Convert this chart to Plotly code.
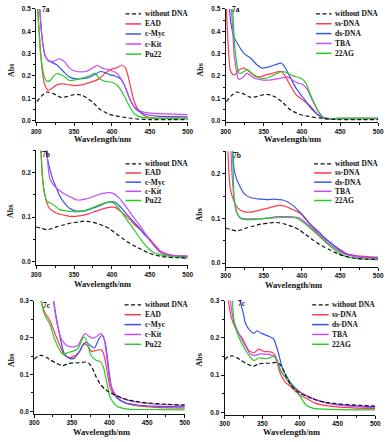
import plotly.graph_objects as go

# ---- data (wavelength / nm, absorbance) ----
# row a: without DNA (same control on both sides)
wl_a_free = [301, 307, 314, 322, 333, 341, 348, 354, 360, 365, 375, 384, 396, 409, 422, 435, 450, 475, 500]
ab_a_free = [0.085, 0.11, 0.128, 0.122, 0.104, 0.108, 0.115, 0.118, 0.114, 0.106, 0.081, 0.051, 0.029, 0.019, 0.012, 0.007, 0.005, 0.005, 0.005]

wl_a_ead = [300, 303, 306, 309, 312, 316, 321, 327, 336, 344, 352, 360, 370, 383, 392, 400, 406, 413, 418, 422, 426, 430, 435, 440, 447, 460, 500]
ab_a_ead = [0.62, 0.45, 0.30, 0.20, 0.155, 0.136, 0.145, 0.160, 0.165, 0.160, 0.157, 0.160, 0.170, 0.187, 0.215, 0.232, 0.236, 0.248, 0.235, 0.19, 0.13, 0.08, 0.048, 0.030, 0.016, 0.012, 0.012]
wl_a_myc = [304, 306, 309, 312, 316, 320, 327, 336, 344, 353, 366, 374, 385, 391, 398, 404, 411, 417, 422, 426, 430, 434, 443, 460, 500]
ab_a_myc = [0.55, 0.44, 0.34, 0.29, 0.268, 0.262, 0.25, 0.22, 0.195, 0.187, 0.19, 0.20, 0.22, 0.215, 0.205, 0.20, 0.188, 0.155, 0.11, 0.08, 0.058, 0.045, 0.030, 0.02, 0.017]
wl_a_kit = [304, 306, 309, 312, 316, 322, 331, 338, 344, 353, 366, 374, 381, 387, 396, 406, 415, 420, 424, 429, 434, 440, 447, 470, 500]
ab_a_kit = [0.55, 0.44, 0.34, 0.29, 0.27, 0.265, 0.277, 0.262, 0.235, 0.22, 0.22, 0.235, 0.247, 0.235, 0.228, 0.213, 0.17, 0.13, 0.095, 0.065, 0.05, 0.040, 0.035, 0.03, 0.027]
wl_a_pu22 = [300, 303, 306, 310, 314, 318, 322, 327, 336, 344, 350, 357, 370, 378, 383, 391, 400, 408, 415, 420, 424, 430, 439, 460, 500]
ab_a_pu22 = [0.62, 0.45, 0.30, 0.205, 0.177, 0.178, 0.195, 0.21, 0.20, 0.18, 0.182, 0.187, 0.20, 0.213, 0.19, 0.176, 0.172, 0.155, 0.118, 0.085, 0.06, 0.03, 0.015, 0.01, 0.008]

wl_a_ss = [300, 302, 304, 306, 309, 312, 318, 324, 331, 339, 345, 354, 362, 373, 377, 384, 392, 403, 411, 420, 430, 450, 500]
ab_a_ss = [0.60, 0.42, 0.30, 0.228, 0.208, 0.206, 0.228, 0.235, 0.22, 0.198, 0.196, 0.206, 0.213, 0.22, 0.206, 0.162, 0.118, 0.088, 0.066, 0.029, 0.01, 0.01, 0.01]
wl_a_ds = [303, 305, 307, 311, 318, 324, 333, 341, 348, 356, 365, 373, 377, 384, 392, 403, 411, 420, 430, 450, 500]
ab_a_ds = [0.60, 0.50, 0.434, 0.375, 0.331, 0.301, 0.279, 0.25, 0.235, 0.24, 0.25, 0.257, 0.243, 0.199, 0.147, 0.096, 0.059, 0.029, 0.01, 0.01, 0.01]
wl_a_tba = [306, 309, 311, 314, 316, 318, 324, 328, 337, 345, 354, 362, 373, 381, 388, 394, 401, 407, 413, 422, 430, 450, 500]
ab_a_tba = [0.60, 0.42, 0.30, 0.228, 0.191, 0.184, 0.198, 0.213, 0.191, 0.184, 0.181, 0.184, 0.191, 0.196, 0.181, 0.169, 0.162, 0.14, 0.096, 0.037, 0.01, 0.008, 0.008]
wl_a_22ag = [308, 310, 312, 314, 316, 318, 324, 328, 337, 345, 354, 364, 375, 381, 390, 398, 405, 411, 420, 428, 435, 450, 500]
ab_a_22ag = [0.60, 0.45, 0.33, 0.272, 0.228, 0.21, 0.22, 0.228, 0.206, 0.191, 0.191, 0.206, 0.22, 0.213, 0.198, 0.191, 0.169, 0.118, 0.051, 0.015, 0.01, 0.01, 0.01]

# row b
wl_b_free = [300, 307, 314, 320, 328, 337, 346, 355, 363, 371, 380, 390, 397, 403, 409, 415, 422, 428, 435, 442, 448, 455, 462, 473, 485, 500]
ab_b_free = [0.078, 0.075, 0.072, 0.074, 0.079, 0.083, 0.087, 0.089, 0.091, 0.090, 0.086, 0.080, 0.074, 0.066, 0.059, 0.051, 0.043, 0.037, 0.031, 0.025, 0.020, 0.016, 0.013, 0.010, 0.009, 0.008]

wl_b_ead = [305, 308, 310, 313, 318, 327, 336, 344, 352, 361, 370, 378, 387, 396, 404, 410, 417, 424, 430, 437, 443, 450, 456, 464, 473, 485, 500]
ab_b_ead = [0.30, 0.20, 0.165, 0.139, 0.119, 0.109, 0.105, 0.102, 0.102, 0.104, 0.108, 0.113, 0.118, 0.122, 0.122, 0.115, 0.105, 0.094, 0.083, 0.073, 0.063, 0.051, 0.039, 0.024, 0.017, 0.013, 0.011]
wl_b_myc = [311, 313, 318, 322, 327, 331, 336, 344, 353, 362, 370, 378, 387, 395, 400, 406, 413, 421, 430, 437, 443, 450, 456, 464, 473, 500]
ab_b_myc = [0.30, 0.25, 0.209, 0.185, 0.165, 0.148, 0.135, 0.12, 0.114, 0.114, 0.117, 0.122, 0.128, 0.134, 0.135, 0.132, 0.12, 0.104, 0.087, 0.074, 0.061, 0.048, 0.035, 0.021, 0.015, 0.012]
wl_b_kit = [313, 315, 318, 322, 327, 334, 340, 347, 353, 360, 366, 375, 383, 390, 396, 402, 409, 417, 426, 432, 439, 445, 451, 458, 464, 477, 500]
ab_b_kit = [0.30, 0.23, 0.187, 0.175, 0.165, 0.156, 0.15, 0.144, 0.139, 0.139, 0.141, 0.146, 0.151, 0.154, 0.155, 0.153, 0.144, 0.127, 0.106, 0.092, 0.076, 0.061, 0.046, 0.033, 0.021, 0.015, 0.013]
wl_b_pu22 = [305, 308, 310, 314, 318, 323, 331, 344, 352, 361, 370, 378, 387, 396, 400, 404, 412, 421, 428, 434, 440, 447, 453, 460, 473, 500]
ab_b_pu22 = [0.30, 0.20, 0.165, 0.137, 0.132, 0.128, 0.117, 0.113, 0.112, 0.113, 0.118, 0.124, 0.130, 0.134, 0.134, 0.129, 0.113, 0.091, 0.075, 0.06, 0.046, 0.032, 0.023, 0.017, 0.013, 0.008]

wl_b_ss = [302, 304, 306, 311, 316, 324, 333, 346, 358, 366, 371, 378, 384, 390, 397, 405, 414, 422, 431, 443, 452, 460, 473, 500]
ab_b_ss = [0.30, 0.21, 0.167, 0.138, 0.123, 0.115, 0.114, 0.119, 0.124, 0.128, 0.129, 0.127, 0.123, 0.118, 0.112, 0.098, 0.079, 0.066, 0.053, 0.038, 0.028, 0.02, 0.016, 0.013]
wl_b_ds = [308, 311, 314, 318, 324, 333, 346, 355, 363, 370, 375, 382, 388, 395, 401, 407, 414, 422, 431, 440, 448, 456, 464, 473, 500]
ab_b_ds = [0.30, 0.211, 0.19, 0.174, 0.156, 0.146, 0.143, 0.142, 0.143, 0.142, 0.141, 0.136, 0.129, 0.118, 0.108, 0.095, 0.082, 0.07, 0.055, 0.042, 0.031, 0.022, 0.018, 0.014, 0.012]
wl_b_tba = [306, 308, 311, 314, 320, 333, 346, 357, 367, 376, 384, 391, 397, 403, 409, 415, 422, 430, 439, 448, 456, 465, 473, 500]
ab_b_tba = [0.30, 0.21, 0.145, 0.115, 0.101, 0.099, 0.099, 0.101, 0.104, 0.104, 0.104, 0.103, 0.101, 0.093, 0.084, 0.074, 0.064, 0.051, 0.038, 0.028, 0.02, 0.016, 0.014, 0.01]
wl_b_22ag = [308, 310, 311, 313, 316, 320, 333, 346, 363, 380, 392, 398, 405, 413, 422, 430, 439, 448, 456, 465, 473, 500]
ab_b_22ag = [0.30, 0.2, 0.149, 0.125, 0.108, 0.099, 0.097, 0.099, 0.101, 0.102, 0.101, 0.096, 0.087, 0.075, 0.061, 0.048, 0.035, 0.024, 0.016, 0.012, 0.01, 0.007]

# row c
wl_c_free = [300, 305, 310, 316, 322, 330, 338, 345, 352, 360, 368, 373, 377, 382, 388, 394, 400, 408, 416, 425, 435, 450, 470, 500]
ab_c_free = [0.142, 0.150, 0.152, 0.147, 0.139, 0.130, 0.124, 0.130, 0.132, 0.132, 0.134, 0.130, 0.118, 0.095, 0.073, 0.060, 0.052, 0.044, 0.037, 0.031, 0.027, 0.023, 0.02, 0.017]

wl_c_ead = [308, 314, 321, 327, 334, 340, 347, 353, 360, 366, 371, 376, 383, 389, 392, 395, 398, 401, 408, 416, 425, 440, 460, 500]
ab_c_ead = [0.31, 0.269, 0.246, 0.215, 0.18, 0.153, 0.146, 0.15, 0.162, 0.184, 0.178, 0.163, 0.166, 0.167, 0.158, 0.13, 0.095, 0.063, 0.041, 0.028, 0.02, 0.014, 0.011, 0.009]
wl_c_myc = [325, 329, 334, 340, 347, 353, 360, 365, 369, 374, 380, 386, 390, 394, 397, 400, 403, 410, 421, 435, 460, 500]
ab_c_myc = [0.31, 0.26, 0.206, 0.157, 0.144, 0.144, 0.162, 0.18, 0.188, 0.18, 0.172, 0.197, 0.206, 0.19, 0.15, 0.1, 0.063, 0.037, 0.023, 0.018, 0.014, 0.012]
wl_c_kit = [325, 330, 336, 343, 351, 358, 364, 368, 372, 377, 382, 388, 392, 395, 398, 401, 408, 421, 435, 460, 500]
ab_c_kit = [0.31, 0.242, 0.197, 0.179, 0.175, 0.179, 0.202, 0.211, 0.205, 0.199, 0.202, 0.211, 0.204, 0.17, 0.12, 0.077, 0.046, 0.032, 0.026, 0.02, 0.016]
wl_c_pu22 = [308, 314, 321, 327, 334, 338, 345, 351, 358, 364, 366, 371, 375, 382, 388, 392, 397, 401, 410, 425, 450, 500]
ab_c_pu22 = [0.31, 0.262, 0.236, 0.197, 0.166, 0.155, 0.16, 0.163, 0.17, 0.197, 0.202, 0.184, 0.153, 0.139, 0.135, 0.12, 0.072, 0.037, 0.014, 0.006, 0.005, 0.004]

wl_c_ss = [304, 309, 315, 324, 332, 339, 345, 352, 362, 367, 373, 380, 388, 397, 408, 420, 442, 470, 500]
ab_c_ss = [0.31, 0.254, 0.223, 0.197, 0.166, 0.16, 0.17, 0.164, 0.162, 0.153, 0.109, 0.082, 0.069, 0.051, 0.038, 0.025, 0.016, 0.012, 0.01]
wl_c_ds = [319, 324, 328, 334, 339, 343, 349, 360, 365, 371, 377, 384, 392, 403, 416, 429, 442, 470, 500]
ab_c_ds = [0.31, 0.272, 0.237, 0.219, 0.212, 0.219, 0.212, 0.203, 0.197, 0.162, 0.117, 0.091, 0.069, 0.051, 0.038, 0.029, 0.023, 0.018, 0.015]
wl_c_tba = [307, 311, 317, 326, 334, 341, 347, 360, 367, 373, 380, 388, 399, 412, 429, 442, 470, 500]
ab_c_tba = [0.31, 0.254, 0.219, 0.184, 0.157, 0.153, 0.157, 0.155, 0.148, 0.117, 0.095, 0.073, 0.056, 0.042, 0.029, 0.023, 0.016, 0.012]
wl_c_22ag = [310, 313, 319, 328, 334, 339, 345, 356, 365, 369, 375, 382, 390, 399, 408, 418, 442, 470, 500]
ab_c_22ag = [0.31, 0.237, 0.201, 0.166, 0.148, 0.139, 0.146, 0.144, 0.15, 0.144, 0.109, 0.091, 0.073, 0.047, 0.02, 0.011, 0.008, 0.007, 0.007]

names_left = ["without DNA", "EAD", "c-Myc", "c-Kit", "Pu22"]
names_right = ["without DNA", "ss-DNA", "ds-DNA", "TBA", "22AG"]
panel_labels = ["7a", "7a", "7b", "7b", "7c", "7c"]

# ---- styling ----
W, H = 392, 442
BLACK = "#111111"
COLORS = ["#111111", "#ff3a4c", "#3a55e6", "#c64cf2", "#26cc26"]
SERIF = "Liberation Serif"
SANS = "Liberation Sans"

# pixel boxes (left, top, right, bottom) and y ranges for the six panels
boxes = [
    (32, 5, 188, 119.4), (227, 5, 384, 119.4),
    (32, 148.4, 188, 264.9), (227, 149.3, 384, 266.3),
    (30, 301, 185, 415.2), (226, 300.7, 381, 416.3),
]
yranges = [(-0.005, 0.5), (-0.005, 0.5), (-0.008, 0.25), (-0.008, 0.25), (-0.006, 0.3), (-0.006, 0.3)]
label_pos = [(42.5, 5.5), (238, 5.5), (42, 153), (239, 154), (43, 306), (244, 304)]
xtitle_pos = [(100, 137), (296, 137), (100, 284), (297, 285), (99, 433.5), (295, 434)]
ytitle_pos = [(6, 67), (201, 67), (5, 210), (200, 214), (6, 361), (200, 361)]
legend_pos = [  # line start, line end, text x, first row y, row step
    (124, 140, 141.5, 10, 10.2), (320, 336, 337.5, 10, 10.0),
    (124, 140, 141.5, 162, 9.3), (318, 336, 337.5, 162, 9.3),
    (123, 140, 141.5, 305, 10.0), (316, 333, 334.5, 305, 10.0),
]


def px(x):
    return x / W


def py(y):
    return 1 - y / H


def note(text, x, y, size, font=SERIF, xanchor="center", angle=0):
    return dict(text=text, x=px(x), y=py(y), xref="paper", yref="paper",
                xanchor=xanchor, yanchor="middle", showarrow=False, textangle=angle,
                font=dict(family=font, size=size, color=BLACK, weight="bold"))


panels = [
    [(wl_a_free, ab_a_free), (wl_a_ead, ab_a_ead), (wl_a_myc, ab_a_myc), (wl_a_kit, ab_a_kit), (wl_a_pu22, ab_a_pu22)],
    [(wl_a_free, ab_a_free), (wl_a_ss, ab_a_ss), (wl_a_ds, ab_a_ds), (wl_a_tba, ab_a_tba), (wl_a_22ag, ab_a_22ag)],
    [(wl_b_free, ab_b_free), (wl_b_ead, ab_b_ead), (wl_b_myc, ab_b_myc), (wl_b_kit, ab_b_kit), (wl_b_pu22, ab_b_pu22)],
    [(wl_b_free, ab_b_free), (wl_b_ss, ab_b_ss), (wl_b_ds, ab_b_ds), (wl_b_tba, ab_b_tba), (wl_b_22ag, ab_b_22ag)],
    [(wl_c_free, ab_c_free), (wl_c_ead, ab_c_ead), (wl_c_myc, ab_c_myc), (wl_c_kit, ab_c_kit), (wl_c_pu22, ab_c_pu22)],
    [(wl_c_free, ab_c_free), (wl_c_ss, ab_c_ss), (wl_c_ds, ab_c_ds), (wl_c_tba, ab_c_tba), (wl_c_22ag, ab_c_22ag)],
]

fig = go.Figure()
annotations = []
shapes = []

for i, series in enumerate(panels):
    n = "" if i == 0 else str(i + 1)
    names = names_left if i % 2 == 0 else names_right
    # coloured curves first, dashed control on top
    for k in [1, 2, 3, 4, 0]:
        wl, ab = series[k]
        fig.add_trace(go.Scatter(
            x=wl, y=ab, mode="lines", name=names[k], showlegend=False,
            xaxis="x" + n, yaxis="y" + n,
            line=dict(color=COLORS[k], width=1.2, shape="spline", smoothing=0.6,
                      dash="4px,2.5px" if k == 0 else "solid"),
        ))

    l, t, r, b = boxes[i]
    axis_common = dict(showline=True, linecolor=BLACK, linewidth=1, mirror=False,
                       ticks="outside", ticklen=3, tickwidth=1, tickcolor=BLACK,
                       showgrid=False, zeroline=False,
                       tickfont=dict(family=SANS, size=6.5, color=BLACK, weight="bold"))
    fig.update_layout(**{
        "xaxis" + n: dict(axis_common, domain=[px(l), px(r)], range=[300, 500],
                          anchor="y" + n, tickvals=[300, 350, 400, 450, 500],
                          minor=dict(ticks="outside", ticklen=2, tickcolor=BLACK, dtick=25, showgrid=False)),
        "yaxis" + n: dict(axis_common, domain=[py(b), py(t)], range=list(yranges[i]),
                          anchor="x" + n, dtick=0.1, tick0=0, tickformat=".1f",
                          minor=dict(ticks="outside", ticklen=2, tickcolor=BLACK, dtick=0.05, showgrid=False)),
    })

    annotations.append(note("Wavelength/nm", *xtitle_pos[i], 8.5))
    annotations.append(note("Abs", *ytitle_pos[i], 8, angle=-90))
    annotations.append(note(panel_labels[i], *label_pos[i], 7.5))

    # hand-made legend (rows are tighter than plotly's legend allows)
    x0, x1, xt, y0, dy = legend_pos[i]
    for k in range(5):
        yy = y0 + k * dy
        shapes.append(dict(type="line", xref="paper", yref="paper",
                           x0=px(x0), x1=px(x1), y0=py(yy), y1=py(yy),
                           line=dict(color=COLORS[k], width=1.3 if k == 0 else 1.5,
                                     dash="4px,2.5px" if k == 0 else "solid")))
        annotations.append(note(names[k], xt, yy, 7.5, xanchor="left"))

fig.update_layout(
    width=W, height=H,
    margin=dict(l=0, r=0, t=0, b=0),
    paper_bgcolor="white", plot_bgcolor="white",
    showlegend=False,
    annotations=annotations,
    shapes=shapes,
)

# the page body has a default 8px margin; drop it so the figure fills the window
fig.write_html("out.html", config={"displayModeBar": False},
               post_script="document.body.style.margin='0';")
